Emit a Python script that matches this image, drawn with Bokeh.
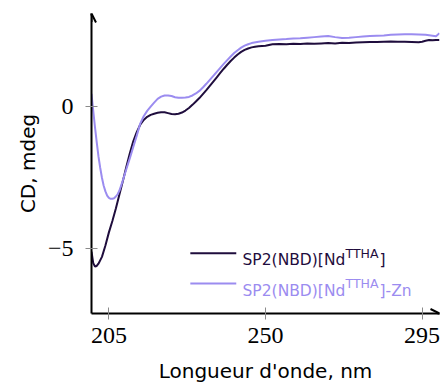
from bokeh.plotting import figure
from bokeh.models import Range1d, FixedTicker, Label, Arrow, OpenHead
from bokeh.embed import file_html
from bokeh.resources import INLINE

# ---- data -------------------------------------------------------------
wl_nd = [200, 200.5, 201, 201.5, 202, 203, 204, 205, 206, 207, 208, 209, 210,
         211, 212, 213, 214, 215, 216, 217, 218, 219, 220, 221, 222, 223, 224,
         225, 226, 227, 228, 229, 230, 231, 232, 233, 234, 235, 236, 237, 238,
         239, 240, 241, 242, 243, 244, 245, 246, 247, 248, 250, 252, 254, 256,
         258, 260, 262, 264, 266, 268, 270, 272, 274, 276, 278, 280, 282, 284,
         286, 288, 290, 292, 294, 295, 296, 297, 298, 299, 300]
cd_nd = [-5.10, -5.50, -5.62, -5.60, -5.52, -5.28, -4.88, -4.42, -4.02, -3.58,
         -3.10, -2.62, -2.12, -1.65, -1.22, -0.90, -0.64, -0.47, -0.36, -0.29,
         -0.25, -0.22, -0.20, -0.20, -0.23, -0.26, -0.27, -0.25, -0.21, -0.14,
         -0.05, 0.06, 0.18, 0.30, 0.44, 0.58, 0.73, 0.88, 1.03, 1.18, 1.33,
         1.47, 1.60, 1.72, 1.83, 1.92, 1.99, 2.04, 2.08, 2.10, 2.12, 2.14,
         2.19, 2.20, 2.19, 2.21, 2.20, 2.22, 2.21, 2.22, 2.23, 2.22, 2.24,
         2.23, 2.25, 2.26, 2.27, 2.27, 2.28, 2.29, 2.28, 2.28, 2.27, 2.26,
         2.28, 2.31, 2.34, 2.33, 2.34, 2.34]

wl_zn = [200, 200.5, 201, 201.5, 202, 202.5, 203, 203.5, 204, 204.5, 205,
         205.5, 206, 206.5, 207, 207.5, 208, 209, 210, 211, 212, 213, 214, 215,
         216, 217, 218, 219, 220, 221, 222, 223, 224, 225, 226, 227, 228, 229,
         230, 231, 232, 233, 234, 235, 236, 237, 238, 239, 240, 241, 242, 243,
         244, 245, 246, 248, 250, 252, 254, 256, 258, 260, 262, 264, 266, 268,
         270, 272, 274, 276, 278, 280, 282, 284, 286, 288, 290, 292, 294, 296,
         298, 299, 300]
cd_zn = [0.45, -0.15, -0.72, -1.25, -1.75, -2.15, -2.50, -2.78, -2.98, -3.13,
         -3.21, -3.24, -3.24, -3.22, -3.16, -3.08, -2.96, -2.60, -2.20, -1.82,
         -1.42, -1.02, -0.60, -0.34, -0.15, 0.00, 0.14, 0.27, 0.35, 0.39, 0.39,
         0.37, 0.33, 0.31, 0.31, 0.32, 0.34, 0.39, 0.46, 0.55, 0.67, 0.80,
         0.94, 1.08, 1.22, 1.36, 1.50, 1.63, 1.76, 1.88, 1.98, 2.07, 2.14,
         2.19, 2.23, 2.28, 2.31, 2.34, 2.36, 2.37, 2.39, 2.40, 2.42, 2.44,
         2.46, 2.48, 2.44, 2.41, 2.42, 2.44, 2.46, 2.48, 2.49, 2.50, 2.52,
         2.53, 2.54, 2.54, 2.53, 2.52, 2.49, 2.47, 2.58]

x_ticks = [205, 250, 295]
y_ticks = [-5, 0]
y_tick_labels = {-5: "\u22125", 0: "0"}

series_names = ["SP2(NBD)[Nd", "SP2(NBD)[Nd"]
series_sup = ["TTHA", "TTHA"]
series_tail = ["]", "]-Zn"]
colors = ["#1f0d3d", "#9b8cf0"]

x_lo, x_hi = 200, 300
y_lo, y_hi = -7.27, 3.27

SANS = "DejaVu Sans"
SERIF = "Liberation Serif"

# ---- figure -----------------------------------------------------------
p = figure(frame_width=348, frame_height=300,
           min_border_left=91, min_border_right=5, min_border_top=13,
           min_border_bottom=74,
           x_range=Range1d(x_lo, x_hi), y_range=Range1d(y_lo, y_hi),
           output_backend="svg", toolbar_location=None)
p.outline_line_color = None
p.grid.visible = False
p.background_fill_color = "white"

p.line(wl_nd, cd_nd, line_color=colors[0], line_width=2)
p.line(wl_zn, cd_zn, line_color=colors[1], line_width=2)

for ax in (p.xaxis[0], p.yaxis[0]):
    ax.axis_line_width = 2
    ax.axis_line_color = "black"
    ax.major_tick_in = 6
    ax.major_tick_out = 6
    ax.major_tick_line_color = "#8a8a8a"
    ax.major_tick_line_width = 1
    ax.minor_tick_line_color = None
    ax.major_label_text_font = SERIF
    ax.major_label_text_font_size = "24px"
    ax.major_label_text_font_style = "normal"
    ax.major_label_text_color = "black"
    ax.axis_label_text_font = SANS
    ax.axis_label_text_font_size = "20px"
    ax.axis_label_text_font_style = "normal"
    ax.axis_label_text_color = "black"

p.xaxis.ticker = FixedTicker(ticks=x_ticks)
p.yaxis.ticker = FixedTicker(ticks=y_ticks)
p.yaxis.major_label_overrides = y_tick_labels
p.xaxis.axis_label = "Longueur d'onde, nm"
p.yaxis.axis_label = "CD, mdeg"
p.xaxis.major_label_standoff = 8
p.xaxis.axis_label_standoff = 13
p.yaxis.major_label_standoff = 12
p.yaxis.axis_label_standoff = 5

# axis arrow heads
p.add_layout(Arrow(end=OpenHead(size=9, line_width=2, line_color="black"),
                   x_start=x_lo, y_start=y_hi - 0.3, x_end=x_lo, y_end=y_hi,
                   line_color="black", line_width=2))
p.add_layout(Arrow(end=OpenHead(size=9, line_width=2, line_color="black"),
                   x_start=x_hi - 1, y_start=y_lo, x_end=x_hi, y_end=y_lo,
                   line_color="black", line_width=2))

# legend (manual, to allow superscripts)
leg_x0, leg_x1, leg_tx = 228.4, 241.6, 243.4
leg_y = [-5.15, -6.22]
for i in range(2):
    p.add_layout(Arrow(end=None, x_start=leg_x0, y_start=leg_y[i],
                       x_end=leg_x1, y_end=leg_y[i],
                       line_color=colors[i], line_width=2))
    p.add_layout(Label(x=leg_tx, y=leg_y[i], y_offset=-7, text=series_names[i],
                       text_font=SANS, text_font_size="15.5px",
                       text_color=colors[i], text_baseline="alphabetic"))
    p.add_layout(Label(x=leg_tx, y=leg_y[i], x_offset=103, y_offset=0,
                       text=series_sup[i],
                       text_font=SANS, text_font_size="12.5px",
                       text_color=colors[i], text_baseline="alphabetic"))
    p.add_layout(Label(x=leg_tx, y=leg_y[i], x_offset=137, y_offset=-7,
                       text=series_tail[i],
                       text_font=SANS, text_font_size="15.5px",
                       text_color=colors[i], text_baseline="alphabetic"))

open("out.html", "w").write(file_html(p, INLINE))
